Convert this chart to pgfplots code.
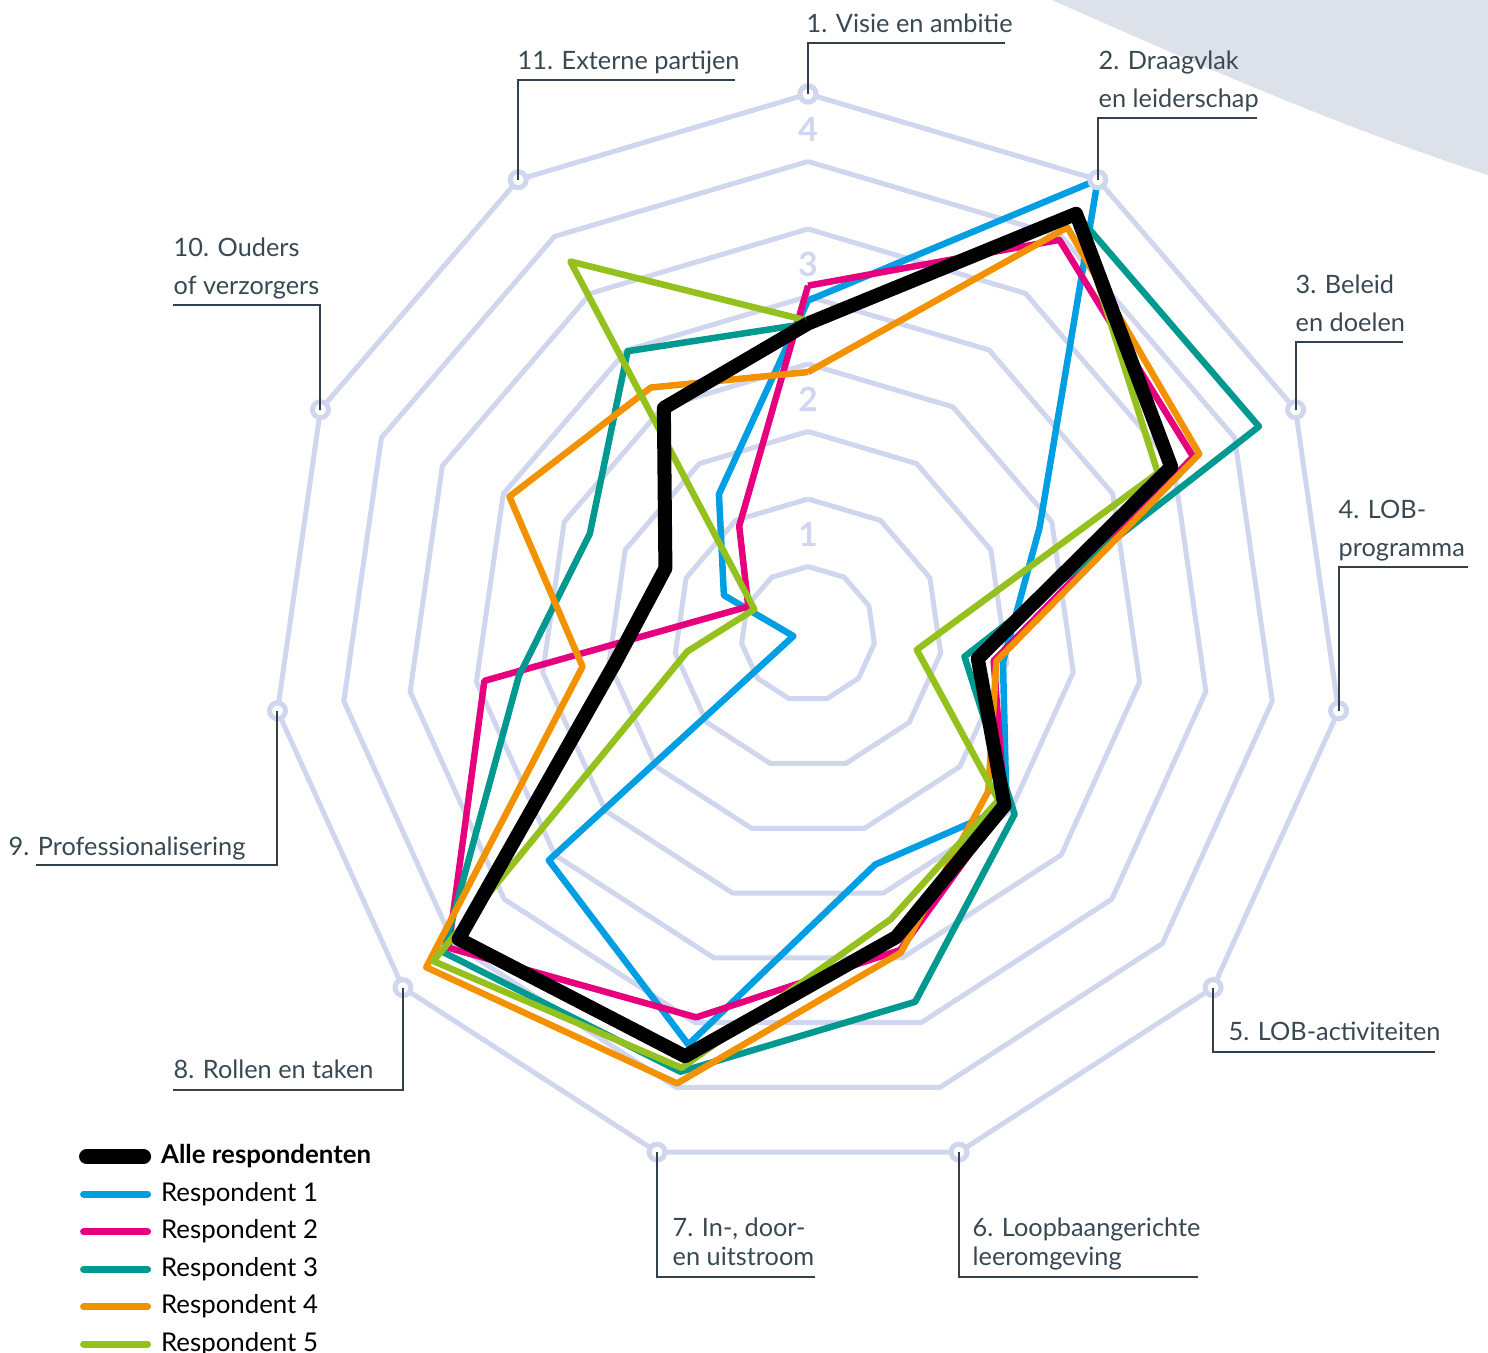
\documentclass[border=0pt]{standalone}
\usepackage{pgfplots}
\pgfplotsset{compat=1.18}
\usepackage{pgfplotstable}
\usepackage{fontspec}
\setmainfont{Lato}

\definecolor{alc}{HTML}{000000}
\definecolor{r1c}{HTML}{009FE3}
\definecolor{r2c}{HTML}{E6007E}
\definecolor{r3c}{HTML}{00998F}
\definecolor{r4c}{HTML}{F39200}
\definecolor{r5c}{HTML}{95C11F}
\definecolor{gridc}{HTML}{CFD6EE}
\definecolor{labc}{HTML}{3A4852}
\definecolor{decor}{HTML}{DDE2EA}

\pgfdeclarelayer{background}
\pgfsetlayers{background,main}

% angle of each theme (clockwise from top), scores 0-4; last row closes the shape
\pgfplotstableread{
ang       alle r1   r2   r3   r4   r5
90        2.30 2.47 2.58 2.30 1.94 2.32
57.2727   3.70 4.00 3.47 3.70 3.58 3.70
24.5455   2.98 1.90 3.16 3.70 3.21 2.87
-8.1818   1.28 1.47 1.40 1.18 1.42 0.82
-40.9091  1.94 1.96 1.94 2.04 1.78 1.88
-73.6364  2.34 1.78 2.44 2.84 2.46 2.20
-106.3636 3.26 3.17 2.96 3.38 3.47 3.35
-139.0909 3.45 2.56 3.55 3.60 3.77 3.70
-171.8182 1.45 0.11 2.44 2.18 1.70 0.91
-204.5455 1.17 0.69 0.49 1.79 2.45 0.44
-237.2727 1.99 1.23 0.95 2.49 2.17 3.28
-270      2.30 2.47 2.58 2.30 1.94 2.32
}\scores

\begin{document}
\begin{tikzpicture}[
  lab/.style={anchor=base west, inner sep=0pt, text=labc, font=\fontsize{7.2}{8}\selectfont},
  conn/.style={draw=labc!90!black, line width=0.2mm}]
\begin{axis}[
  x=1.34cm, y=1.35cm,
  xmin=-6.03, xmax=5.075, ymin=-5.326, ymax=4.696,
  hide axis, clip=false,
  legend image code/.code={\draw[#1, line cap=round] (0mm,0mm) -- (6.4mm,0mm);},
  legend cell align=left,
  legend style={draw=none, fill=none, at={(axis cs:-5.445,-3.735)}, anchor=north west,
    inner sep=0pt, row sep=0.2mm, column sep=0.5mm,
    font=\fontsize{7.35}{8}\selectfont,
    nodes={inner sep=0.5mm, text height=2mm, text depth=0.55mm}},
]
\addlegendimage{legend image code/.code={\draw[alc, line width=1.5mm, line cap=round] (0.3mm,0mm) -- (6.0mm,0mm);}}
\addlegendentry{\textbf{Alle respondenten}}
\addlegendimage{r1c, line width=0.7mm}
\addlegendentry{Respondent 1}
\addlegendimage{r2c, line width=0.7mm}
\addlegendentry{Respondent 2}
\addlegendimage{r3c, line width=0.7mm}
\addlegendentry{Respondent 3}
\addlegendimage{r4c, line width=0.7mm}
\addlegendentry{Respondent 4}
\addlegendimage{r5c, line width=0.7mm}
\addlegendentry{Respondent 5}

% rings
\pgfplotsinvokeforeach{0.5,1,1.5,2,2.5,3,3.5,4}{
  \addplot[gridc, line width=0.5mm, line join=round, data cs=polar, forget plot]
    table[x=ang, y expr=#1] {\scores};
}
\node[font=\fontsize{9.5}{9.5}\selectfont\bfseries, text=gridc] at (axis cs:0,0.74) {1};
\node[font=\fontsize{9.5}{9.5}\selectfont\bfseries, text=gridc] at (axis cs:0,1.74) {2};
\node[font=\fontsize{9.5}{9.5}\selectfont\bfseries, text=gridc] at (axis cs:0,2.74) {3};
\node[font=\fontsize{9.5}{9.5}\selectfont\bfseries, text=gridc] at (axis cs:0,3.74) {4};

% axis end circles
\addplot[only marks, mark=*, mark size=0.8mm, data cs=polar, forget plot,
  mark options={draw=gridc, fill=white, line width=0.5mm}]
  table[x=ang, y expr=4] {\scores};

\addplot[r1c, line width=0.65mm, line join=round, data cs=polar, forget plot] table[x=ang, y=r1] {\scores};
\addplot[r2c, line width=0.65mm, line join=round, data cs=polar, forget plot] table[x=ang, y=r2] {\scores};
\addplot[r3c, line width=0.65mm, line join=round, data cs=polar, forget plot] table[x=ang, y=r3] {\scores};
\addplot[r4c, line width=0.65mm, line join=round, data cs=polar, forget plot] table[x=ang, y=r4] {\scores};
\addplot[r5c, line width=0.65mm, line join=round, data cs=polar, forget plot] table[x=ang, y=r5] {\scores};
\addplot[alc, line width=1.4mm, line join=round, data cs=polar, forget plot] table[x=ang, y=alle] {\scores};

\coordinate (TL) at (axis cs:-6.0299,4.6963);
\pgfplotsinvokeforeach{1,...,11}{
  \coordinate (c#1) at (axis cs:{4*cos(90-(#1-1)*360/11)},{4*sin(90-(#1-1)*360/11)});
}
\end{axis}

\begin{scope}[shift={(TL)}, x=0.1mm, y=-0.1mm]
  \begin{pgfonlayer}{background}
    \fill[decor] (1052,0) .. controls (1189,61) and (1345,129) .. (1488,175) -- (1488,0) -- cycle;
  \end{pgfonlayer}
  % theme labels
  \draw[conn] (c1) -- (c1 |- 0,43) -- (1005,43);
  \node[lab] at (806,33) {1. Visie en ambitie};
  \draw[conn] (c2) -- (c2 |- 0,118) -- (1257,118);
  \node[lab] at (1098,70) {2. Draagvlak};
  \node[lab] at (1098,108) {en leiderschap};
  \draw[conn] (c3) -- (c3 |- 0,342) -- (1403,342);
  \node[lab] at (1295,294) {3. Beleid};
  \node[lab] at (1295,332) {en doelen};
  \draw[conn] (c4) -- (c4 |- 0,567) -- (1468,567);
  \node[lab] at (1338,519) {4. LOB-};
  \node[lab] at (1338,557) {programma};
  \draw[conn] (c5) -- (c5 |- 0,1052) -- (1435,1052);
  \node[lab] at (1228,1041) {5. LOB-activiteiten};
  \draw[conn] (c6) -- (c6 |- 0,1277) -- (1198,1277);
  \node[lab] at (972,1237) {6. Loopbaangerichte};
  \node[lab] at (972,1266) {leeromgeving};
  \draw[conn] (c7) -- (c7 |- 0,1277) -- (815,1277);
  \node[lab] at (672,1237) {7. In-, door-};
  \node[lab] at (672,1266) {en uitstroom};
  \draw[conn] (c8) -- (c8 |- 0,1090) -- (173,1090);
  \node[lab] at (173,1079) {8. Rollen en taken};
  \draw[conn] (c9) -- (c9 |- 0,865) -- (36,865);
  \node[lab] at (8,856) {9. Professionalisering};
  \draw[conn] (c10) -- (c10 |- 0,305) -- (173,305);
  \node[lab] at (173,257) {10. Ouders};
  \node[lab] at (173,295) {of verzorgers};
  \draw[conn] (c11) -- (c11 |- 0,80) -- (735,80);
  \node[lab] at (517,70) {11. Externe partijen};
  \pgfresetboundingbox
  \path[use as bounding box] (0,0) rectangle (1488,1353);
\end{scope}
\end{tikzpicture}
\end{document}
